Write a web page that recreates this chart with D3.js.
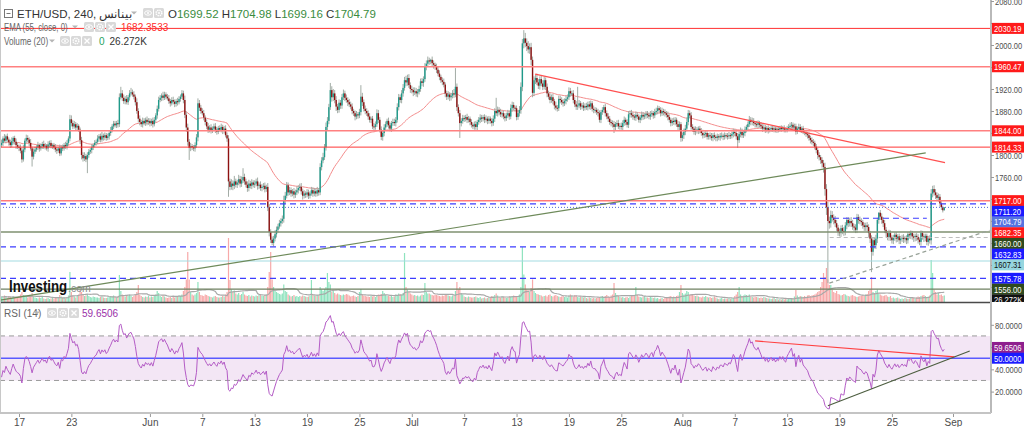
<!DOCTYPE html>
<html>
<head>
<meta charset="utf-8">
<script src="https://cdn.jsdelivr.net/npm/d3@7"></script>
<style>
  body { margin: 0; background: #fff; }
  svg { display: block; font-family: "Liberation Sans", Arial, sans-serif; }
</style>
</head>
<body>
<div id="chart"></div>
<script>
// ETH/USD 4h bars from 2023-05-15 00:00 UTC, one row per day (6 bars)
const firstOpen = 1818;
const closes = [
  [1822,1830,1826,1834,1828,1823],[1818,1825,1831,1824,1818,1815],[1813,1808,1792,1810,1826,1831],
  [1828,1822,1812,1797,1806,1810],[1814,1818,1812,1816,1820,1815],[1817,1812,1819,1822,1816,1818],
  [1814,1810,1808,1812,1803,1814],[1812,1818,1816,1822,1830,1865],[1858,1852,1856,1850,1853,1846],
  [1827,1800,1794,1798,1792,1800],[1806,1809,1814,1818,1822,1824],[1830,1834,1828,1835,1832,1836],
  [1831,1834,1840,1845,1852,1857],[1854,1858,1856,1905,1912,1904],[1898,1902,1896,1905,1912,1914],
  [1910,1906,1896,1880,1866,1860],[1856,1862,1858,1864,1860,1862],
  // Jun
  [1858,1862,1856,1864,1872,1884],[1900,1904,1908,1904,1910,1906],[1903,1898,1894,1900,1897,1893],
  [1898,1896,1902,1906,1912,1900],[1873,1850,1824,1813,1816,1814],[1812,1818,1832,1894,1886,1880],
  [1876,1868,1860,1852,1846,1850],[1844,1848,1852,1846,1842,1849],[1846,1851,1844,1848,1836,1830],
  [1752,1742,1748,1744,1752,1746],[1750,1756,1748,1754,1760,1752],[1746,1740,1748,1744,1750,1746],
  [1748,1752,1744,1746,1740,1742],[1744,1738,1742,1705,1660,1646],[1640,1648,1656,1664,1670,1676],
  [1680,1684,1718,1726,1745,1732],[1736,1730,1734,1728,1732,1736],[1740,1742,1734,1726,1730,1728],
  [1732,1726,1730,1736,1730,1734],[1730,1736,1732,1778,1790,1796],[1814,1851,1862,1887,1918,1905],
  [1912,1900,1888,1882,1895,1890],[1905,1912,1904,1900,1896,1892],[1888,1880,1876,1870,1874,1872],
  [1878,1906,1896,1884,1880,1876],[1870,1864,1866,1852,1851,1856],[1876,1864,1846,1833,1840,1850],
  [1856,1862,1854,1848,1858,1860],[1858,1864,1887,1905,1900,1912],[1922,1936,1932,1940,1927,1920],
  // Jul
  [1918,1914,1916,1912,1915,1920],[1934,1931,1938,1960,1966,1972],[1970,1973,1967,1964,1960,1955],
  [1948,1942,1936,1933,1928,1912],[1906,1910,1905,1908,1912,1910],[1924,1887,1876,1858,1862,1867],
  [1866,1869,1864,1866,1860,1855],[1852,1856,1851,1860,1864,1868],[1866,1869,1864,1866,1862,1866],
  [1862,1858,1866,1880,1876,1882],[1878,1874,1876,1870,1867,1872],[1876,1870,1885,1891,1886,1885],
  [1869,1876,1882,1924,2003,2012],[2004,1998,1992,1996,1973,1913],[1936,1940,1932,1926,1938,1930],
  [1924,1936,1924,1912,1906,1900],[1905,1898,1890,1886,1885,1902],[1900,1896,1894,1898,1902,1905],
  [1916,1912,1912,1900,1892,1888],[1890,1894,1888,1890,1886,1889],[1887,1892,1888,1894,1884,1882],
  [1882,1878,1876,1864,1878,1882],[1887,1876,1870,1866,1860,1858],[1856,1851,1856,1858,1852,1853],
  [1851,1858,1864,1860,1855,1874],[1876,1873,1870,1868,1873,1870],[1864,1868,1873,1870,1872,1875],
  [1873,1870,1874,1876,1872,1878],[1880,1885,1882,1876,1880,1878],[1876,1873,1869,1864,1858,1862],
  [1860,1864,1856,1851,1856,1831],
  // Aug
  [1836,1842,1848,1860,1876,1872],[1851,1848,1842,1846,1844,1848],[1845,1840,1836,1838,1840,1833],
  [1836,1834,1831,1836,1833,1831],[1834,1832,1835,1835,1833,1836],[1835,1834,1836,1835,1838,1842],
  [1840,1834,1827,1838,1842,1836],[1840,1846,1851,1856,1864,1860],[1862,1858,1856,1855,1858,1855],
  [1852,1848,1850,1846,1849,1845],[1847,1849,1846,1848,1845,1847],[1846,1849,1847,1849,1846,1845],
  [1849,1851,1853,1855,1850,1852],[1842,1848,1851,1845,1848,1842],[1840,1838,1836,1831,1827,1824],
  [1822,1815,1809,1800,1796,1791],[1785,1778,1738,1705,1680,1676],[1691,1686,1682,1676,1668,1660],
  [1658,1667,1662,1660,1672,1682],[1676,1680,1676,1670,1668,1664],[1687,1682,1680,1678,1672,1669],
  [1672,1669,1658,1648,1624,1645],[1636,1648,1682,1695,1688,1682],[1676,1664,1658,1651,1658,1650],
  [1645,1650,1655,1648,1652,1645],[1648,1651,1647,1649,1645,1656],[1654,1658,1652,1649,1653,1651],
  [1646,1642,1658,1652,1649,1653],[1642,1648,1645,1730,1738,1732],[1727,1722,1724,1712,1705,1699.52],
  [1704.79]
];
// distance from body top to high, per bar
const wickUp = [
  [6,4,8,3,5,4],[5,7,3,4,6,5],[4,6,5,8,4,6],[5,4,7,3,6,5],[4,6,3,5,4,6],[5,3,6,4,5,3],
  [4,6,5,3,7,4],[5,4,6,5,4,8],[7,5,6,4,5,3],[4,6,5,7,4,5],[5,4,6,3,5,4],[6,4,5,7,4,5],
  [4,5,3,6,4,5],[5,4,6,7,12,6],[6,5,7,4,6,8],[5,6,4,7,5,6],[4,6,5,4,6,5],[5,4,6,5,4,6],
  [6,5,4,7,5,4],[5,6,4,5,6,4],[4,6,5,4,6,5],[8,6,7,5,6,4],[4,5,6,9,6,5],[5,6,4,5,6,4],
  [6,4,5,6,5,4],[5,6,4,5,6,5],[6,5,8,6,10,5],[5,8,6,7,16,6],[5,6,7,5,6,4],[6,5,7,4,6,5],
  [5,6,4,7,6,5],[6,5,7,6,5,6],[5,6,8,7,6,5],[6,5,4,6,5,7],[5,6,7,5,6,4],[6,5,4,6,5,6],
  [5,6,4,7,6,8],[6,8,7,6,13,7],[8,6,7,5,6,5],[6,7,5,6,5,6],[5,6,4,5,6,4],[6,21,7,5,6,5],
  [5,6,4,5,6,5],[7,6,5,6,5,6],[5,4,6,5,4,6],[6,5,7,6,5,6],[7,6,8,6,7,5],[6,5,7,6,5,6],
  [5,6,5,7,6,7],[5,2,6,5,4,6],[5,6,4,5,6,4],[5,6,4,5,6,8],[34,6,5,6,5,6],[5,4,6,5,4,5],
  [4,5,6,4,5,6],[5,4,5,6,4,5],[4,5,6,5,24,6],[5,6,4,5,6,5],[6,5,7,6,5,4],[5,6,7,8,8,15],
  [10,8,9,7,8,6],[7,6,8,6,5,7],[6,7,5,6,5,6],[5,6,4,7,5,6],[6,5,6,5,6,5],[7,6,5,6,5,6],
  [34,6,4,5,6,5],[6,5,6,5,4,6],[5,4,6,5,4,5],[4,6,5,6,5,4],[5,6,4,5,6,5],[6,5,6,4,5,6],
  [5,6,5,4,6,5],[4,5,6,5,4,5],[5,4,6,5,4,6],[6,5,4,5,6,4],[5,4,6,5,4,5],[6,5,4,6,5,4],
  [5,6,7,8,6,5],[6,5,4,6,5,4],[5,4,6,5,4,5],[4,5,6,4,5,4],[5,4,5,6,4,5],[4,5,6,4,5,6],
  [5,4,6,5,8,6],[5,6,4,5,7,5],[6,5,4,6,5,4],[5,4,6,5,4,5],[4,5,4,5,4,5],[5,4,5,4,5,4],
  [4,5,6,5,4,5],[5,4,6,5,4,5],[4,5,4,5,4,5],[5,4,5,4,5,4],[5,6,8,9,10,8],[8,7,6,7,6,5],
  [6,5,6,7,6,5],[5,6,7,6,5,6],[6,5,6,5,4,5],[5,6,5,4,6,5],[6,7,4,1,5,6],[5,6,5,4,6,5],
  [4,5,4,5,4,5],[5,4,5,4,5,4],[4,5,4,5,4,5],[5,4,5,4,5,4],[4,5,6,8,6,7],[6,5,6,5,4,3],
  [0.19]
];
// distance from body bottom to low, per bar
const wickDown = [
  [4,6,3,5,4,6],[5,4,6,5,7,4],[6,5,6,4,5,4],[5,6,4,18,5,4],[4,5,6,4,5,4],[5,4,6,5,4,5],
  [4,5,6,4,5,4],[5,4,5,6,4,5],[6,5,4,6,5,4],[7,8,6,5,5,25],[5,4,6,5,4,5],[4,6,5,4,6,5],
  [5,4,6,5,4,5],[4,5,6,5,4,6],[5,6,4,5,6,4],[4,5,6,5,7,6],[5,6,4,5,6,5],[6,5,6,4,5,6],
  [5,4,6,5,4,5],[4,5,6,4,5,6],[5,6,4,5,4,6],[6,8,7,22,6,5],[5,6,5,7,6,5],[4,5,6,5,6,5],
  [5,4,5,6,5,4],[4,5,6,5,4,6],[28,6,5,8,6,5],[6,5,7,6,5,6],[5,7,6,5,6,5],[6,5,7,6,5,6],
  [5,6,5,7,8,6],[4,6,5,6,5,4],[6,5,7,6,5,6],[5,6,5,7,6,5],[6,5,6,7,5,6],[5,6,5,4,6,5],
  [6,5,6,5,6,5],[5,6,7,6,5,8],[7,6,8,6,5,6],[6,5,6,5,7,5],[5,6,5,7,5,6],[5,6,7,5,6,5],
  [6,5,6,5,7,5],[5,6,5,6,7,6],[6,5,6,5,6,5],[5,6,5,6,5,6],[6,5,7,6,5,7],[6,7,5,6,7,5],
  [5,6,7,5,6,5],[6,5,6,7,5,6],[5,6,5,6,5,7],[6,5,7,6,5,6],[5,7,6,27,6,5],[6,5,6,5,6,5],
  [5,6,5,6,5,6],[6,5,6,5,6,5],[5,6,5,6,5,6],[6,5,6,5,6,5],[5,6,5,6,5,6],[6,5,6,7,8,9],
  [8,9,7,8,10,8],[6,7,5,6,7,5],[6,5,6,7,5,6],[5,6,7,5,6,5],[6,5,6,5,6,5],[5,6,5,6,5,6],
  [6,5,6,5,6,5],[5,6,5,6,5,6],[6,5,6,5,6,5],[5,6,5,6,5,6],[6,11,6,5,5,6],[5,6,5,6,5,6],
  [6,5,6,5,6,5],[5,6,5,6,5,6],[6,5,6,5,6,5],[5,6,5,6,5,6],[6,5,6,5,6,5],[5,6,5,6,7,7],
  [6,7,6,5,6,5],[5,6,5,6,5,6],[6,5,6,5,6,5],[5,6,5,6,5,6],[6,5,6,5,6,5],[5,6,5,6,5,6],
  [6,6,14,5,6,5],[5,6,5,6,5,6],[6,5,6,5,6,5],[5,6,5,6,5,6],[4,5,4,5,4,5],[5,4,5,4,5,4],
  [4,5,4,5,4,5],[5,4,5,4,5,4],[4,5,6,5,6,5],[6,5,6,7,6,7],[8,10,12,14,113,10],[8,7,8,7,6,7],
  [6,7,6,7,6,7],[7,6,7,6,7,6],[6,7,6,7,6,7],[7,8,7,8,37,7],[6,7,8,7,6,7],[7,6,7,6,7,6],
  [6,7,6,7,6,7],[7,6,7,6,7,6],[6,7,6,7,6,7],[7,6,7,6,7,6],[6,7,6,8,7,6],[7,6,7,6,5,4],
  [0.36]
];
// volume in K per bar
const volumes = [
  [22,18,26,20,16,24],[20,14,22,18,16,20],[24,30,40,28,26,22],[18,20,24,36,22,18],[16,14,18,16,20,14],
  [12,14,16,12,14,18],[14,18,16,20,28,22],[16,18,14,20,26,120],[40,26,22,18,24,30],[48,40,30,24,26,32],
  [24,20,18,22,20,18],[18,16,20,22,18,16],[16,18,20,24,22,26],[20,18,22,108,44,30],[26,22,28,24,30,26],
  [20,24,30,40,68,30],[24,20,18,22,20,24],[18,22,20,24,30,44],[36,24,20,26,22,18],[16,18,20,16,22,18],
  [20,22,26,24,30,44],[60,90,200,90,40,30],[26,30,36,80,40,28],[26,24,30,28,24,22],[20,18,22,24,20,18],
  [18,20,24,22,30,40],[256,88,50,40,46,34],[30,36,28,32,40,30],[26,24,28,22,26,24],[22,26,24,28,30,26],
  [24,28,30,60,120,200],[90,60,48,40,36,32],[30,34,70,44,40,30],[26,22,24,28,22,24],[20,24,22,26,24,22],
  [20,22,24,88,30,26],[24,28,26,60,50,44],[52,60,116,80,70,40],[44,36,30,34,30,28],[26,30,28,32,30,26],
  [22,24,26,22,20,24],[40,52,30,26,24,22],[22,20,24,22,26,20],[24,30,28,32,44,36],[28,24,26,22,24,20],
  [22,30,28,34,32,30],[36,196,60,50,40,34],[30,26,28,24,26,22],[26,30,28,76,40,34],[34,30,28,26,30,28],
  [26,24,22,26,24,30],[28,26,24,22,26,24],[44,80,50,60,36,30],[22,20,18,22,20,18],[18,20,22,18,16,20],
  [14,16,18,14,16,18],[20,24,22,28,34,26],[20,18,22,20,18,16],[18,22,20,24,26,22],[20,24,30,60,220,110],
  [70,50,46,40,56,90],[44,36,32,30,28,26],[22,24,26,22,28,30],[24,22,26,28,24,22],[20,22,24,20,22,18],
  [26,30,24,22,28,26],[20,18,22,20,18,22],[16,14,18,16,14,16],[14,16,18,20,22,24],[20,24,28,22,20,26],
  [30,76,36,28,24,22],[18,20,16,18,20,16],[22,26,24,28,60,30],[22,20,18,20,24,18],[18,16,20,18,16,18],
  [14,16,12,14,16,12],[16,18,20,22,24,20],[22,20,24,26,40,68],[36,30,34,44,40,28],[32,28,26,24,26,22],
  [20,18,22,20,24,20],[18,20,16,18,22,18],[14,12,14,16,12,14],[12,14,16,12,14,16],[24,30,40,60,30,24],
  [26,30,28,24,30,22],[20,18,22,20,18,16],[18,16,20,18,16,14],[14,12,14,16,12,14],[10,12,10,12,10,12],
  [10,12,14,12,14,22],[48,26,20,24,22,20],[24,20,26,28,24,26],[28,30,34,40,44,60],[80,116,100,136,90,68],
  [68,50,40,36,44,32],[30,26,28,32,30,26],[24,22,26,28,24,22],[20,22,24,26,28,24],[30,32,44,52,100,40],
  [36,44,50,34,30,26],[24,26,28,22,20,24],[16,18,14,16,18,14],[12,14,12,16,14,12],[14,16,18,16,14,18],
  [22,20,24,26,28,24],[20,22,26,168,116,50],[40,30,36,28,30,24],
  [26.272]
];

const lastOHLC = ['1699.52', '1704.98', '1699.16', '1704.79'];
const emaLast = 1682.3533;
const rsiLast = 59.6506;
const volLast = 26.272;

const priceTicks = [2080, 2040, 2000, 1960, 1920, 1880, 1840, 1800, 1760, 1720, 1680, 1640, 1600, 1560];
const rsiTicks = [20, 40, 60, 80];
const dateTicks = ['2023-05-17', '2023-05-23', '2023-06-01', '2023-06-07', '2023-06-13', '2023-06-19', '2023-06-25',
  '2023-07-01', '2023-07-07', '2023-07-13', '2023-07-19', '2023-07-25', '2023-08-01', '2023-08-07', '2023-08-13',
  '2023-08-19', '2023-08-25', '2023-09-01'];

// horizontal levels drawn on the chart
const levelPrices = [2030.19, 1960.47, 1844.00, 1814.33, 1717.00, 1711.20, 1660.00, 1632.83, 1607.31, 1575.78, 1556.00];
const lastPrice = 1704.79;

// drawn trend lines [time, price]
const trendDown = [['2023-07-15T03:00Z', 1947], ['2023-08-31T02:00Z', 1786]];
const trendUp = [['2023-05-14T20:00Z', 1536], ['2023-08-28T21:00Z', 1804]];
const trendDash = [['2023-08-17T20:00Z', 1567], ['2023-09-05T04:00Z', 1663]];
const shortBlue = [['2023-08-18T06:00Z', 1685], ['2023-08-29T00:00Z', 1685]];
const shortGray = [['2023-08-17T21:00Z', 1650], ['2023-09-05T00:00Z', 1650]];
// drawn lines on RSI [time, value]
const rsiDown = [['2023-08-09T08:00Z', 65.5], ['2023-09-01T04:00Z', 51.2]];
const rsiUp = [['2023-08-17T16:00Z', 7.3], ['2023-09-02T22:00Z', 56.5]];

// ---------------------------------------------------------------
const W = 1024, H = 427, plotR = 991, mainB = 302, rsiT = 303, rsiB = 413;

const C = closes.flat(), WU = wickUp.flat(), WD = wickDown.flat(), V = volumes.flat();
const t0 = Date.UTC(2023, 4, 15);
const bars = C.map((c, i) => {
  const o = i === 0 ? firstOpen : C[i - 1];
  return { t: new Date(t0 + i * 4 * 3600e3), o, c, h: Math.max(o, c) + WU[i], l: Math.min(o, c) - WD[i], v: V[i] };
});

// EMA 55
const k = 2 / 56;
let e = C[0];
bars.forEach((b, i) => { e = i ? b.c * k + e * (1 - k) : b.c; b.ema = e; });
// RSI 14 (Wilder)
const ch = C.map((c, i) => i ? c - C[i - 1] : 0);
let ag = d3.mean(ch.slice(1, 15), d => Math.max(d, 0)), al = d3.mean(ch.slice(1, 15), d => Math.max(-d, 0));
bars.forEach((b, i) => {
  if (i) { ag = (ag * 13 + Math.max(ch[i], 0)) / 14; al = (al * 13 + Math.max(-ch[i], 0)) / 14; }
  b.rsi = 100 - 100 / (1 + ag / al);
});
// volume MA 20
bars.forEach((b, i) => { b.vma = d3.mean(V.slice(Math.max(0, i - 19), i + 1)); });

const x = d3.scaleUtc().domain([new Date(Date.UTC(2023, 4, 17)), new Date(Date.UTC(2023, 8, 1))]).range([19, 953]);
const y = d3.scaleLinear().domain([1760, 2000]).range([177, 45]);
const yVol = d3.scaleLinear().domain([0, 256]).range([mainB, mainB - 64]);
const yRsi = d3.scaleLinear().domain([20, 80]).range([391.6, 324.8]);

const svg = d3.select('#chart').append('svg').attr('width', W).attr('height', H);
svg.append('rect').attr('width', W).attr('height', H).attr('fill', '#fff');
const defs = svg.append('defs');
defs.append('clipPath').attr('id', 'clipMain').append('rect').attr('x', 0).attr('y', 0).attr('width', plotR).attr('height', mainB);
defs.append('clipPath').attr('id', 'clipRsi').append('rect').attr('x', 0).attr('y', rsiT).attr('width', plotR).attr('height', rsiB - rsiT);
defs.append('clipPath').attr('id', 'clipAxisMain').append('rect').attr('x', plotR).attr('y', 0).attr('width', W - plotR).attr('height', mainB);

const main = svg.append('g').attr('clip-path', 'url(#clipMain)');

// volume
main.selectAll('.vol').data(bars).join('rect')
  .attr('x', d => x(d.t) - 0.6).attr('width', 1.2)
  .attr('y', d => yVol(d.v)).attr('height', d => mainB - yVol(d.v))
  .attr('fill', d => d.c >= d.o ? '#8fe3be' : '#f7a9a9');
main.append('path').datum(bars)
  .attr('d', d3.line().x(d => x(d.t)).y(d => yVol(d.vma)))
  .attr('fill', 'none').attr('stroke', '#a8a8a8').attr('stroke-width', 1.2);

// EMA
main.append('path').datum(bars)
  .attr('d', d3.line().x(d => x(d.t)).y(d => y(d.ema)))
  .attr('fill', 'none').attr('stroke', '#f48c8c').attr('stroke-width', 1);

// candles
main.selectAll('.wick').data(bars).join('line')
  .attr('x1', d => x(d.t)).attr('x2', d => x(d.t))
  .attr('y1', d => y(d.h)).attr('y2', d => y(d.l))
  .attr('stroke', '#a2aca5').attr('stroke-width', 1);
main.selectAll('.body').data(bars).join('rect')
  .attr('x', d => x(d.t) - 0.7).attr('width', 1.4)
  .attr('y', d => y(Math.max(d.o, d.c))).attr('height', d => Math.max(1, Math.abs(y(d.o) - y(d.c))))
  .attr('fill', d => d.c >= d.o ? '#1f9a8a' : '#8d1111');

// horizontal levels
const levelStyle = [
  { c: '#ff3030', w: 1 }, { c: '#ff8080', w: 1.6 }, { c: '#ff8080', w: 1.6 }, { c: '#ff3535', w: 1 },
  { c: '#ff7a7a', w: 1.5 }, { c: '#3d3dff', w: 1.2, dash: '6,4' }, { c: '#7f9170', w: 1.3 },
  { c: '#3d3dff', w: 1.2, dash: '6,4' }, { c: '#a3dbe2', w: 1.2 }, { c: '#3d3dff', w: 1.2, dash: '6,4' },
  { c: '#6f8060', w: 1.3 }
];
levelPrices.forEach((p, i) => {
  const s = levelStyle[i];
  main.append('line').attr('x1', 0).attr('x2', plotR).attr('y1', y(p)).attr('y2', y(p))
    .attr('stroke', s.c).attr('stroke-width', s.w).attr('stroke-dasharray', s.dash || null);
});
main.append('line').attr('x1', 0).attr('x2', plotR).attr('y1', y(lastPrice)).attr('y2', y(lastPrice))
  .attr('stroke', '#4d63d8').attr('stroke-width', 1).attr('stroke-dasharray', '1,2');

// trend lines
const seg = (pts, yS) => d3.line().x(d => x(new Date(d[0]))).y(d => yS(d[1]))(pts);
main.append('path').attr('d', seg(trendDown, y)).attr('stroke', '#ff5050').attr('stroke-width', 1.2).attr('fill', 'none');
main.append('path').attr('d', seg(trendUp, y)).attr('stroke', '#6e8a5a').attr('stroke-width', 1.2).attr('fill', 'none');
main.append('path').attr('d', seg(trendDash, y)).attr('stroke', '#98a298').attr('stroke-width', 1.2).attr('stroke-dasharray', '4,3').attr('fill', 'none');
main.append('path').attr('d', seg(shortBlue, y)).attr('stroke', '#3d3dff').attr('stroke-width', 1.2).attr('stroke-dasharray', '6,4').attr('fill', 'none');
main.append('path').attr('d', seg(shortGray, y)).attr('stroke', '#bdbdbd').attr('stroke-width', 1.2).attr('stroke-dasharray', '4,3').attr('fill', 'none');

// watermark (horizontally condensed)
svg.append('text').attr('transform', 'translate(9,292) scale(0.78,1)')
  .attr('font-size', 17).attr('font-weight', 'bold').attr('fill', '#111').text('Investing');
svg.append('text').attr('x', 68).attr('y', 292).attr('font-size', 10.5).attr('fill', '#8a8a8a').text('.com');

// ---------------- RSI pane
const rp = svg.append('g').attr('clip-path', 'url(#clipRsi)');
rp.append('rect').attr('x', 0).attr('width', plotR).attr('y', yRsi(70)).attr('height', yRsi(30) - yRsi(70)).attr('fill', '#f3e6f5');
[70, 30].forEach(v => rp.append('line').attr('x1', 0).attr('x2', plotR).attr('y1', yRsi(v)).attr('y2', yRsi(v))
  .attr('stroke', '#9a9a9a').attr('stroke-dasharray', '5,4'));
rp.append('line').attr('x1', 0).attr('x2', plotR).attr('y1', yRsi(50)).attr('y2', yRsi(50))
  .attr('stroke', '#5a5aff').attr('stroke-width', 1.5);
rp.append('path').datum(bars).attr('d', d3.line().x(d => x(d.t)).y(d => yRsi(d.rsi)))
  .attr('fill', 'none').attr('stroke', '#b45cc6').attr('stroke-width', 1);
rp.append('path').attr('d', seg(rsiDown, yRsi)).attr('stroke', '#ff4040').attr('stroke-width', 1.2).attr('fill', 'none');
rp.append('path').attr('d', seg(rsiUp, yRsi)).attr('stroke', '#4d5e40').attr('stroke-width', 1.2).attr('fill', 'none');

// pane frame
svg.append('line').attr('x1', 0).attr('x2', plotR).attr('y1', mainB + 0.5).attr('y2', mainB + 0.5).attr('stroke', '#4a4a4a').attr('stroke-width', 1.5);
svg.append('line').attr('x1', 0.5).attr('x2', 0.5).attr('y1', 0).attr('y2', rsiB).attr('stroke', '#c8c8c8');
svg.append('line').attr('x1', plotR).attr('x2', plotR).attr('y1', 0).attr('y2', rsiB).attr('stroke', '#b9b9b9').attr('stroke-width', 2);

// ---------------- price labels (positions resolved first so covered ticks can be hidden)
const labels = [
  ...levelPrices.map(p => ({ v: p, y: y(p), text: d3.format('.2f')(p) })),
  { v: lastPrice, y: y(lastPrice), text: d3.format('.2f')(lastPrice), bg: '#5673e0' },
  { v: emaLast, y: y(emaLast), text: d3.format('.2f')(emaLast), bg: '#ff1a1a' },
  { v: volLast, y: yVol(volLast), text: volLast + 'K', bg: '#111' }
];
const labelBg = ['#ff1a1a', '#ff1a1a', '#ff1a1a', '#ff1a1a', '#ff1a1a', '#1a1aff', '#2f4a1e', '#1a1aff', '#96d6df', '#1a1aff', '#2f4a1e'];
labels.forEach((l, i) => { if (i < levelPrices.length) l.bg = labelBg[i]; l.fg = l.bg === '#96d6df' ? '#111' : '#fff'; });
labels.sort((a, b) => a.y - b.y);
labels.forEach((l, i) => { if (i) l.y = Math.max(l.y, labels[i - 1].y + 10.7); });
const rsiLabels = [{ v: rsiLast, y: yRsi(rsiLast), bg: '#8e1f8e' }, { v: 50, y: yRsi(50), bg: '#1a1aff' }];

// ---------------- axes
function styleAxis(g, taken) {
  g.select('.domain').remove();
  g.selectAll('.tick line').attr('stroke', '#9a9a9a');
  g.selectAll('.tick text').attr('fill', '#4d4d4d').attr('font-size', 10).attr('font-family', '"Liberation Sans", Arial, sans-serif');
  if (taken) {
    // narrow the price-scale numbers so they fit the 33px axis
    g.selectAll('.tick text').attr('font-size', 9.5).attr('x', null).attr('dy', null)
      .attr('transform', 'translate(4,3.3) scale(0.79,1)');
    g.selectAll('.tick').filter(function () {
      const ty = +this.getAttribute('transform').match(/,([-\d.]+)\)/)[1];
      return taken.some(l => Math.abs(l.y - ty) < 5);
    }).select('text').remove();
  }
}
svg.append('g').attr('transform', `translate(${plotR},0)`)
  .call(d3.axisRight(y).tickValues(priceTicks).tickSize(3).tickPadding(2).tickFormat(d3.format('.2f')))
  .call(styleAxis, labels);
svg.append('g').attr('transform', `translate(${plotR},0)`)
  .call(d3.axisRight(yRsi).tickValues(rsiTicks).tickSize(3).tickPadding(2).tickFormat(d3.format('.4f')))
  .call(styleAxis, rsiLabels);
svg.append('line').attr('x1', 0).attr('x2', plotR).attr('y1', rsiB).attr('y2', rsiB).attr('stroke', '#c4c4c4').attr('stroke-width', 2);
svg.append('g').attr('transform', `translate(0,${rsiB + 1})`)
  .call(d3.axisBottom(x).tickValues(dateTicks.map(d => new Date(d + 'T00:00Z'))).tickSize(3).tickPadding(2)
    .tickFormat(d => d.getUTCDate() === 1 ? d3.utcFormat('%b')(d) : d.getUTCDate()))
  .call(styleAxis, null);

function axisLabel(g, l, text, fg) {
  g.append('rect').attr('x', plotR + 1).attr('y', l.y - 5.5).attr('width', W - plotR - 1).attr('height', 11).attr('fill', l.bg);
  g.append('text').attr('transform', `translate(${plotR + 3},${l.y + 3.4}) scale(0.8,1)`)
    .attr('font-size', 9.5).attr('fill', fg).text(text);
}
const lg = svg.append('g').attr('clip-path', 'url(#clipAxisMain)');
labels.forEach(l => axisLabel(lg, l, l.text, l.fg));
rsiLabels.forEach(l => axisLabel(svg, l, d3.format('.4f')(l.v), '#fff'));

// ---------------- legends
function caret(g, cx, cy) {
  g.append('path').attr('d', `M${cx - 3},${cy - 1.5}L${cx + 3},${cy - 1.5}L${cx},${cy + 1.5}Z`).attr('fill', '#b5b5b5');
}
function icons(g, x0, cy, kinds) {
  kinds.forEach((kd, j) => {
    const gx = x0 + j * 11;
    g.append('rect').attr('x', gx).attr('y', cy - 5).attr('width', 10).attr('height', 10).attr('rx', 1.5).attr('fill', '#d9d9d9');
    if (kd === 'eye') {
      g.append('ellipse').attr('cx', gx + 5).attr('cy', cy).attr('rx', 3.4).attr('ry', 2.2).attr('fill', 'none').attr('stroke', '#fff');
      g.append('circle').attr('cx', gx + 5).attr('cy', cy).attr('r', 1).attr('fill', '#fff');
    } else if (kd === 'gear') {
      g.append('circle').attr('cx', gx + 5).attr('cy', cy).attr('r', 2.8).attr('fill', 'none').attr('stroke', '#fff').attr('stroke-width', 1.6).attr('stroke-dasharray', '1.4,0.8');
      g.append('circle').attr('cx', gx + 5).attr('cy', cy).attr('r', 1).attr('fill', '#fff');
    } else {
      g.append('path').attr('d', `M${gx + 2.5},${cy - 2.5}L${gx + 7.5},${cy + 2.5}M${gx + 7.5},${cy - 2.5}L${gx + 2.5},${cy + 2.5}`).attr('stroke', '#fff').attr('stroke-width', 1.3);
    }
  });
}
const leg = svg.append('g');
leg.append('rect').attr('x', 4.5).attr('y', 9.5).attr('width', 8).attr('height', 8).attr('fill', '#fff').attr('stroke', '#777');
leg.append('line').attr('x1', 6.5).attr('x2', 10.5).attr('y1', 13.5).attr('y2', 13.5).attr('stroke', '#777');
leg.append('text').attr('x', 17).attr('y', 18).attr('font-size', 11.5).attr('fill', '#333').text('ETH/USD, 240, بينانس');
caret(leg, 134, 13);
icons(leg, 143, 13, ['eye', 'gear']);
const ohlc = leg.append('text').attr('x', 168).attr('y', 18).attr('font-size', 11.5);
['O', 'H', 'L', 'C'].forEach((lab, i) => {
  ohlc.append('tspan').attr('fill', '#333').text((i ? ' ' : '') + lab);
  ohlc.append('tspan').attr('fill', '#3a8c3e').text(lastOHLC[i]);
});

leg.append('text').attr('transform', 'translate(4,31) scale(0.78,1)').attr('font-size', 10).attr('fill', '#666').text('EMA (55, close, 0)');
caret(leg, 75, 27);
icons(leg, 84, 27, ['eye', 'gear', 'x']);
leg.append('text').attr('x', 121).attr('y', 31).attr('font-size', 10).attr('fill', '#ff2a2a').text(d3.format('.4f')(emaLast));

leg.append('text').attr('transform', 'translate(4,45) scale(0.82,1)').attr('font-size', 10).attr('fill', '#666').text('Volume (20)');
caret(leg, 52, 41);
icons(leg, 60, 41, ['eye', 'gear', 'x']);
const vl = leg.append('text').attr('x', 99).attr('y', 45).attr('font-size', 10);
vl.append('tspan').attr('fill', '#27a35f').text('0');
vl.append('tspan').attr('fill', '#333').attr('dx', 5).text(volLast + 'K');

leg.append('text').attr('x', 4).attr('y', 317).attr('font-size', 10).attr('fill', '#666').text('RSI (14)');
caret(leg, 37, 313);
icons(leg, 47, 313, ['eye', 'gear', 'x']);
leg.append('text').attr('x', 82).attr('y', 317).attr('font-size', 10).attr('fill', '#9a2fa8').text(d3.format('.4f')(rsiLast));
</script>
</body>
</html>
